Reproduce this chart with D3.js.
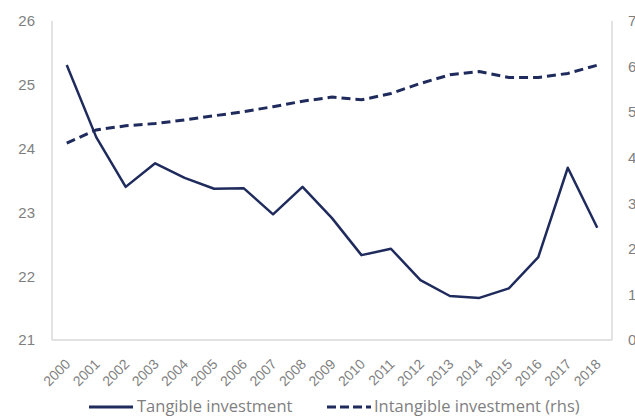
<!DOCTYPE html>
<html>
<head>
<meta charset="utf-8">
<script src="https://cdn.jsdelivr.net/npm/d3@7"></script>
<style>
  body { margin: 0; background: #fff; }
  svg { display: block; font-family: "Open Sans", sans-serif; }
  .tick text { fill: #7f7f7f; }
</style>
</head>
<body>
<div id="graphic"></div>
<script>
const years = d3.range(2000, 2019).map(String);
const tangible = [25.31, 24.18, 23.40, 23.77, 23.54, 23.37, 23.38, 22.97, 23.40, 22.91,
  22.33, 22.43, 21.94, 21.69, 21.66, 21.81, 22.30, 23.70, 22.76];
const intangible = [4.32, 4.61, 4.70, 4.75, 4.83, 4.92, 5.01, 5.12, 5.24, 5.33,
  5.27, 5.41, 5.63, 5.82, 5.89, 5.76, 5.76, 5.85, 6.03];
const leftTicks = [21, 22, 23, 24, 25, 26];
const rightTicks = [0, 1, 2, 3, 4, 5, 6, 7];
const legendLabels = ["Tangible investment", "Intangible investment (rhs)"];

const width = 635, height = 417;
const margin = { top: 21, right: 23, bottom: 77, left: 52 };
const lineColour = "#1f2b5c";

const svg = d3.select("#graphic").append("svg")
  .attr("width", width)
  .attr("height", height);

const x = d3.scalePoint()
  .domain(years)
  .range([margin.left, width - margin.right])
  .padding(0.5);

const yLeft = d3.scaleLinear()
  .domain([21, 26])
  .range([height - margin.bottom, margin.top]);

const yRight = d3.scaleLinear()
  .domain([0, 7])
  .range([height - margin.bottom, margin.top]);

// plot frame (left, right, bottom)
const frame = svg.append("g").attr("stroke", "#d9d9d9").attr("stroke-width", 1.5);
frame.append("line")
  .attr("x1", margin.left).attr("x2", margin.left)
  .attr("y1", margin.top).attr("y2", height - margin.bottom);
frame.append("line")
  .attr("x1", width - margin.right).attr("x2", width - margin.right)
  .attr("y1", margin.top).attr("y2", height - margin.bottom);
frame.append("line")
  .attr("x1", margin.left).attr("x2", width - margin.right)
  .attr("y1", height - margin.bottom).attr("y2", height - margin.bottom);

// left axis
svg.append("g")
  .attr("transform", "translate(" + margin.left + ",0)")
  .call(d3.axisLeft(yLeft).tickValues(leftTicks).tickFormat(d3.format("d")).tickSize(0).tickPadding(17))
  .call(g => g.select(".domain").remove())
  .selectAll("text").style("font-size", "15px");

// right axis (runs off the window edge like the original)
svg.append("g")
  .attr("transform", "translate(" + (width - margin.right) + ",0)")
  .call(d3.axisRight(yRight).tickValues(rightTicks).tickFormat(d3.format("d")).tickSize(0).tickPadding(16))
  .call(g => g.select(".domain").remove())
  .selectAll("text").style("font-size", "15px");

// x axis, rotated labels
svg.append("g")
  .attr("transform", "translate(0," + (height - margin.bottom) + ")")
  .call(d3.axisBottom(x).tickSize(0).tickPadding(0))
  .call(g => g.select(".domain").remove())
  .selectAll("text")
  .style("font-size", "14px")
  .attr("text-anchor", "end")
  .attr("dy", null)
  .attr("transform", "translate(4,25) rotate(-45)");

const lineL = d3.line()
  .x((d, i) => x(years[i]))
  .y(d => yLeft(d));

const lineR = d3.line()
  .x((d, i) => x(years[i]))
  .y(d => yRight(d));

svg.append("path")
  .attr("d", lineR(intangible))
  .attr("fill", "none")
  .attr("stroke", lineColour)
  .attr("stroke-width", 3)
  .attr("stroke-dasharray", "9,5");

svg.append("path")
  .attr("d", lineL(tangible))
  .attr("fill", "none")
  .attr("stroke", lineColour)
  .attr("stroke-width", 2.5)
  .attr("stroke-linejoin", "round");

// legend
const legendY = 407;
const lg = svg.append("g");
lg.append("line")
  .attr("x1", 89).attr("x2", 133)
  .attr("y1", legendY).attr("y2", legendY)
  .attr("stroke", lineColour).attr("stroke-width", 3);
lg.append("text")
  .attr("x", 137).attr("y", legendY + 5)
  .attr("fill", "#7f7f7f").style("font-size", "16.5px")
  .text(legendLabels[0]);
lg.append("line")
  .attr("x1", 327).attr("x2", 371)
  .attr("y1", legendY).attr("y2", legendY)
  .attr("stroke", lineColour).attr("stroke-width", 3)
  .attr("stroke-dasharray", "9,4");
lg.append("text")
  .attr("x", 374).attr("y", legendY + 5)
  .attr("fill", "#7f7f7f").style("font-size", "16.5px")
  .text(legendLabels[1]);
</script>
</body>
</html>
